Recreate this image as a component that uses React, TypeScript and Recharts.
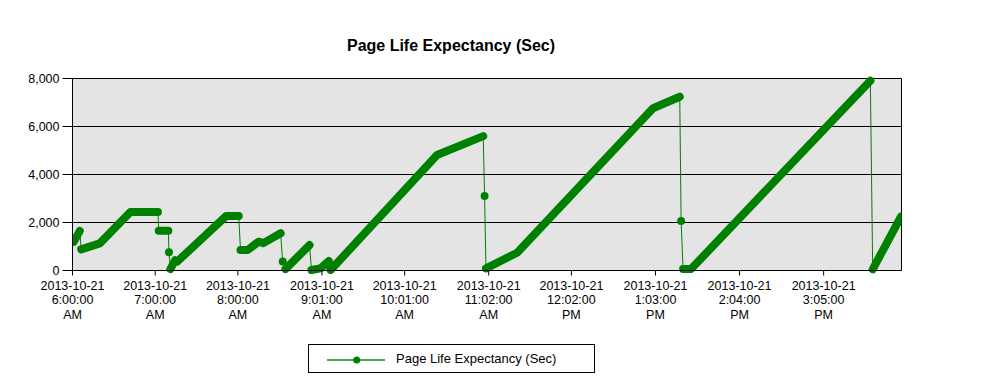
import React from "react";
import {
  CartesianGrid,
  Line,
  LineChart,
  ReferenceLine,
  XAxis,
  YAxis,
} from "recharts";

// minutes after 2013-10-21 6:00:00 AM
const minutes = [
  1, 5.3, 6.3, 19.8, 42, 62, 62.6, 69.5, 70, 71, 74.5, 76, 111.5, 120.6, 121.9,
  127, 135, 138.5, 151, 152.5, 154.5, 172, 173.4, 180, 186, 187.3, 264.5, 298,
  299, 300, 322.6, 421.2, 440.6, 441.6, 443, 448.8, 578.9, 580.6, 601.1,
];

const pleSec = [
  1200, 1650, 880, 1130, 2440, 2440, 1660, 1660, 760, 60, 430, 370, 2270, 2270,
  850, 850, 1200, 1140, 1550, 370, 60, 1060, 20, 90, 400, 20, 4810, 5600, 3100,
  90, 740, 6760, 7240, 2060, 60, 60, 7910, 50, 2240,
];

// 1 = samples are dense between this point and the next (drawn heavy)
const denseAfter = [
  1, 0, 1, 1, 1, 0, 1, 0, 0, 1, 1, 1, 1, 0, 1, 1, 1, 1, 0, 0, 1, 0, 1, 1, 1, 1,
  1, 0, 0, 1, 1, 1, 0, 0, 1, 1, 0, 1, 0,
];

const xTicks = [0, 60, 120, 181, 241, 302, 362, 423, 484, 545];
const xTickLabels = [
  ["2013-10-21", "6:00:00", "AM"],
  ["2013-10-21", "7:00:00", "AM"],
  ["2013-10-21", "8:00:00", "AM"],
  ["2013-10-21", "9:01:00", "AM"],
  ["2013-10-21", "10:01:00", "AM"],
  ["2013-10-21", "11:02:00", "AM"],
  ["2013-10-21", "12:02:00", "PM"],
  ["2013-10-21", "1:03:00", "PM"],
  ["2013-10-21", "2:04:00", "PM"],
  ["2013-10-21", "3:05:00", "PM"],
];
const yTicks = [0, 2000, 4000, 6000, 8000];

const seriesName = "Page Life Expectancy (Sec)";
const GREEN = "#008000";

const rows = minutes.map((m, i) => ({ m, v: pleSec[i] }));

function denseSegments() {
  const segs: { m: number; v: number }[][] = [];
  let cur: { m: number; v: number }[] = [];
  denseAfter.forEach((d, i) => {
    if (d && i + 1 < rows.length) {
      if (cur.length === 0) cur.push(rows[i]);
      cur.push(rows[i + 1]);
    } else if (cur.length) {
      segs.push(cur);
      cur = [];
    }
  });
  if (cur.length) segs.push(cur);
  return segs;
}

// a point gets its own marker when neither neighbour segment is dense
const lonePoints = new Set(
  rows
    .map((_, i) => i)
    .filter((i) => !denseAfter[i] && (i === 0 || !denseAfter[i - 1]))
);

function TimeTick({ x, y, payload, index }: any) {
  const lines = xTickLabels[index] ?? [String(payload.value)];
  return (
    <text x={x} y={y} textAnchor="middle" fontSize={12.5} fill="#000">
      {lines.map((l, i) => (
        <tspan key={i} x={x} dy={i === 0 ? 12.5 : 14.3}>
          {l}
        </tspan>
      ))}
    </text>
  );
}

export default function App() {
  const segs = denseSegments();
  return (
    <div
      style={{
        position: "relative",
        width: 990,
        height: 370,
        fontFamily: "'Liberation Sans', Arial, sans-serif",
      }}
    >
      <div
        style={{
          position: "absolute",
          left: 243,
          top: 29.5,
          width: 400,
          textAlign: "center",
          fontSize: 16,
          lineHeight: "16px",
          fontWeight: 700,
        }}
      >
        {seriesName}
      </div>

      <LineChart
        width={990}
        height={370}
        data={rows}
        margin={{ top: 70.5, right: 96.5, left: 0.5, bottom: 67.5 }}
      >
        <CartesianGrid
          vertical={false}
          stroke="#000"
          fill="#e4e4e4"
          horizontalValues={yTicks}
        />
        <XAxis
          dataKey="m"
          type="number"
          domain={[0, 601.5]}
          ticks={xTicks}
          interval={0}
          tick={<TimeTick />}
          tickSize={5}
          height={40}
          axisLine={{ stroke: "#000" }}
          tickLine={{ stroke: "#000" }}
          allowDataOverflow
        />
        <YAxis
          width={64}
          domain={[0, 8000]}
          ticks={yTicks}
          tickSize={10}
          tickMargin={3}
          tickFormatter={(v: number) => v.toLocaleString("en-US")}
          tick={{ fontSize: 12.5, fill: "#000" }}
          axisLine={{ stroke: "#000" }}
          tickLine={{ stroke: "#000" }}
        />
        <ReferenceLine x={601.5} stroke="#000" />
        <Line
          dataKey="v"
          stroke={GREEN}
          strokeWidth={1}
          isAnimationActive={false}
          dot={(p: any) =>
            lonePoints.has(p.index) ? (
              <circle key={p.key} cx={p.cx} cy={p.cy} r={4} fill={GREEN} />
            ) : (
              <g key={p.key} />
            )
          }
          activeDot={false}
        />
        {segs.map((s, i) => (
          <Line
            key={i}
            data={s}
            dataKey="v"
            stroke={GREEN}
            strokeWidth={8}
            strokeLinecap="round"
            strokeLinejoin="round"
            dot={false}
            activeDot={false}
            legendType="none"
            isAnimationActive={false}
          />
        ))}
      </LineChart>

      <div
        style={{
          position: "absolute",
          left: 300,
          top: 336,
          width: 287,
          height: 29,
          border: "1px solid #000",
          background: "#fff",
          boxSizing: "border-box",
        }}
      >
        <svg width={80} height={27} style={{ position: "absolute", left: 0, top: 0 }}>
          <line x1={18} x2={76} y1={15} y2={15} stroke="#55a255" strokeWidth={2} />
          <circle cx={47.7} cy={15} r={3.5} fill={GREEN} />
        </svg>
        <span
          style={{
            position: "absolute",
            left: 87,
            top: 7.3,
            fontSize: 13,
            lineHeight: "13px",
            whiteSpace: "nowrap",
          }}
        >
          {seriesName}
        </span>
      </div>
    </div>
  );
}
